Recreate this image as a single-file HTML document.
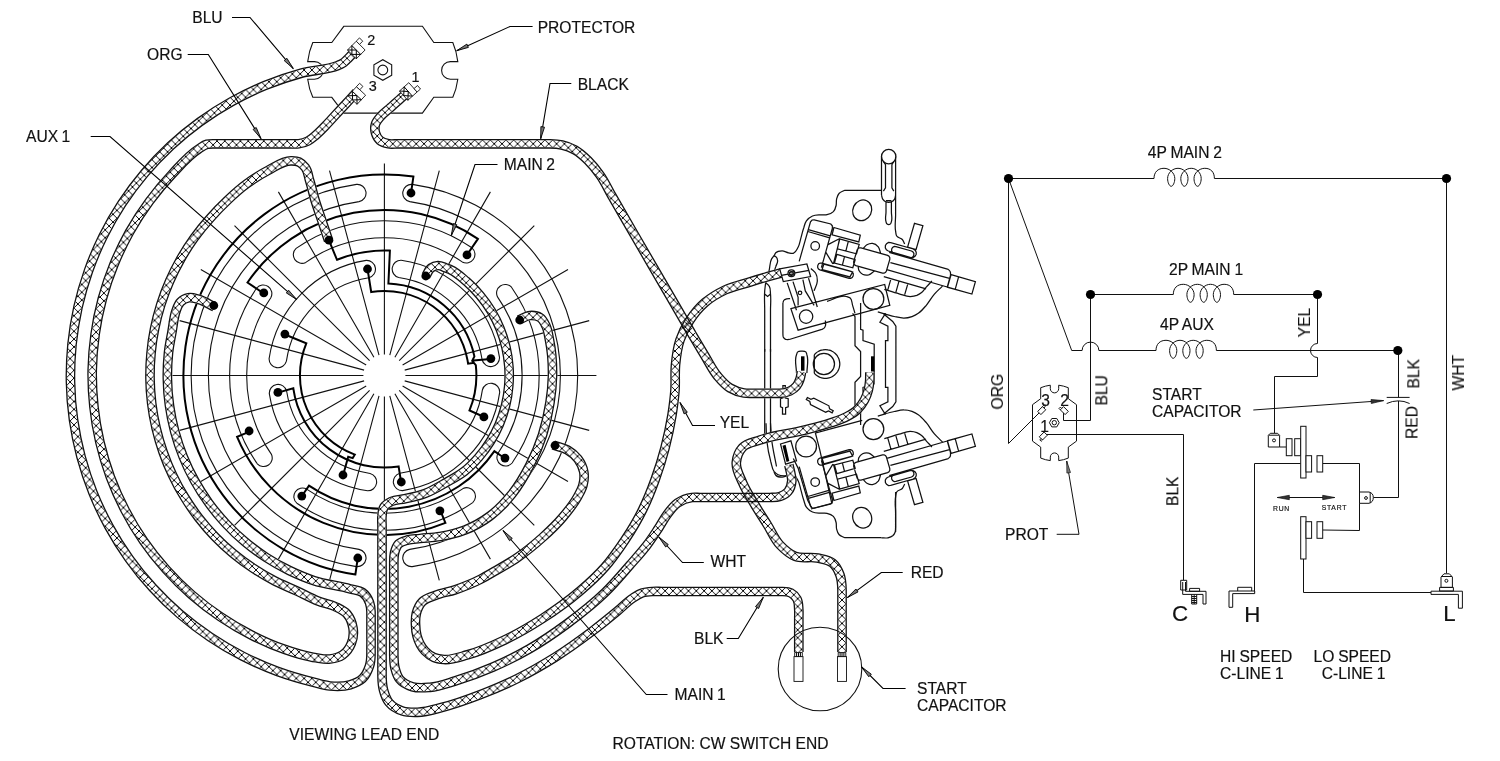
<!DOCTYPE html>
<html><head><meta charset="utf-8"><title>Wiring diagram</title>
<style>
html,body{margin:0;padding:0;background:#fff}
svg{display:block}
text{filter:url(#gs)}
.t{fill:none;stroke:#111;stroke-width:1.1}
.k{fill:none;stroke:#000;stroke-width:2;stroke-linejoin:miter}
.wo{fill:none;stroke:#111;stroke-width:9.7;stroke-linejoin:round}
use.wo[stroke]{stroke:#fff}
.wi{fill:none;stroke-width:7.1;stroke-linejoin:round}
.h{fill:none;stroke:#000;stroke-width:1}
.w{fill:#fff;stroke:#111;stroke-width:.9}
.ld{fill:none;stroke:#000;stroke-width:1.1}
.m{fill:none;stroke:#111;stroke-width:1.25}
.mw{fill:#fff;stroke:#111;stroke-width:1.25}
.s{fill:none;stroke:#111;stroke-width:1}
.sw{fill:#fff;stroke:#111;stroke-width:1}
text{font-family:"Liberation Sans",sans-serif;fill:#111;stroke:#111;stroke-width:.18;word-spacing:-.5px}
</style></head>
<body>
<svg width="1500" height="761" viewBox="0 0 1500 761">
<defs><filter id="gs" x="-5%" y="-20%" width="110%" height="140%" color-interpolation-filters="sRGB"><feColorMatrix type="saturate" values="0"/></filter></defs>
<rect width="1500" height="761" fill="#fff"/>
<defs><pattern id="h_blu" width="7.8" height="7.8" patternUnits="userSpaceOnUse" patternTransform="translate(7.7 7.6)"><path d="M-1 -1L8.8 8.8M-1 8.8L8.8 -1" stroke="#000" stroke-width=".95" fill="none"/></pattern><path id="w_blu" d="M356.5 50C354.7 51.8 352.8 53.7 351 55.5C349.7 56.8 348.4 58.2 347 59.5C346 60.4 345.1 61.5 344 62.3C342.9 63.1 341.7 63.8 340.5 64.4C339.7 64.8 338.9 65.1 338.1 65.4C326.5 70.2 313.3 69.9 301.2 73.2C289.1 76.5 277.1 80.6 265.5 85.3C253.9 90.1 242.5 95.6 231.5 101.7C220.5 107.8 209.9 114.6 199.7 122C189.6 129.3 179.8 137.4 170.6 145.9C161.4 154.5 152.7 163.6 144.6 173.2C136.5 182.8 128.9 192.9 122 203.4C115.1 213.9 108.8 224.9 103.2 236.1C97.6 247.4 92.7 259 88.5 270.8C84.3 282.7 80.8 294.8 78 307.1C75.3 319.4 73.3 331.8 72 344.3C70.8 356.9 70.2 369.5 70.5 382.1C70.7 394.6 71.7 407.2 73.5 419.7C75.3 432.1 77.8 444.5 81 456.7C84.3 468.8 88.2 480.8 92.9 492.5C97.6 504.2 103 515.6 109 526.6C115.1 537.7 121.8 548.4 129.1 558.6C136.4 568.9 144.4 578.7 152.9 587.9C161.4 597.2 170.5 606 180 614.2C189.6 622.4 199.7 630 210.1 637C220.6 644.1 231.5 650.4 242.7 656.2C254 661.9 265.5 667 277.4 671.4C289.2 675.7 301.3 679.2 313.6 682.3C319 683.6 324.4 685.5 330 686C336.6 686.6 343.6 686.8 350 684.8C354.5 683.4 359.1 681.7 362.5 678.5C366 675.2 368 670.5 369.5 666C371.7 659.7 370.8 652.7 371 646C371.1 642.7 371 639.3 371 636C371 635.3 371 634.7 371 634C371 630.7 371 627.3 371 624C371 620.7 371 617.3 371 614C371 613.3 371 612.7 371 612C370.9 608.8 370.6 605.5 369.5 602.5C368.1 598.7 365.8 594.9 362.5 592.5C359 589.9 354.2 590 350 588.8C338.1 585.5 325.5 584.5 313.8 580.6C305.4 577.8 297.3 574.3 289.3 570.5C281.4 566.6 273.6 562.3 266.2 557.5C258.8 552.7 251.7 547.4 244.9 541.7C238.1 536.1 231.7 530 225.7 523.5C219.7 517 214 510.2 208.8 503C203.7 495.9 198.9 488.4 194.6 480.7C190.3 473 186.5 465 183.2 456.8C179.9 448.6 177.1 440.2 174.8 431.7C172.5 423.1 170.7 414.5 169.5 405.7C168.2 397 167.5 388.1 167.4 379.3C167.2 370.5 167.6 361.6 168.5 352.8C169.4 344 171.6 335.4 172.8 326.7C173.1 325.1 173.2 323.5 173.5 322C174.1 318.3 174.7 314.5 176 311C177.2 307.8 178.1 304.4 180.5 302C182.6 299.9 185.5 298.4 188.5 297.8C192 297.1 195.6 298.6 199 299.5C204.5 301 209.3 304.5 214.5 307"/><mask id="m_blu" maskUnits="userSpaceOnUse" x="0" y="0" width="1500" height="761"><rect width="1500" height="761" fill="#fff"/><use href="#w_blu" class="wi" stroke="#000"/></mask><pattern id="h_org" width="7.8" height="7.8" patternUnits="userSpaceOnUse" patternTransform="translate(6.4 0.6)"><path d="M-1 -1L8.8 8.8M-1 8.8L8.8 -1" stroke="#000" stroke-width=".95" fill="none"/></pattern><path id="w_org" d="M356.3 92.5C355.8 93 355.4 93.5 354.9 94C351.9 97.2 348.9 100.5 345.9 103.8C342.4 107.5 338.9 111.3 335.4 115C332.4 118.3 329.4 121.6 326.4 124.8C325.9 125.3 325.5 125.8 325 126.3C322.1 129.3 319.2 132.3 316 135C313.4 137.1 311 139.5 308 141C305.1 142.5 301.9 143.4 298.7 143.8C295.8 144.2 292.9 143.8 290 143.8C289.3 143.8 288.7 143.8 288 143.8C280.1 143.8 272.2 143.8 264.3 143.8C255.8 143.8 247.2 143.8 238.7 143.8C230.8 143.8 222.9 143.8 215 143.8C214.3 143.8 213.7 143.8 213 143.8C211 143.8 208.9 143.8 207 144.3C204 145.1 201.5 147.2 198.9 148.8C188.6 155.2 180.7 164.9 172.5 173.7C164.2 182.5 156.4 191.8 149.3 201.5C142.1 211.3 135.5 221.4 129.6 231.9C123.7 242.5 118.5 253.4 113.9 264.6C109.3 275.7 105.5 287.2 102.3 298.9C99.2 310.5 96.7 322.4 95.1 334.3C93.4 346.3 92.4 358.3 92.2 370.4C92 382.5 92.6 394.6 93.9 406.6C95.1 418.5 97.2 430.5 99.9 442.2C102.7 454 106.2 465.6 110.3 476.9C114.5 488.2 119.4 499.3 125 510C130.5 520.7 136.7 531.1 143.6 541C150.4 550.9 158 560.4 166 569.4C174 578.4 182.6 586.9 191.7 594.8C200.8 602.7 210.4 610.1 220.4 616.8C230.4 623.6 240.8 629.7 251.5 635.1C262.3 640.6 273.3 645.5 284.7 649.4C289.7 651.2 294.8 652.8 300 654.2C305.3 655.6 310.6 657 316 657.8C320.6 658.5 325.3 659.6 330 659C334.3 658.5 338.9 657.5 342.5 655C346.5 652.3 349.5 648 351.3 643.5C353.3 638.7 353.8 633.1 353 628C352.2 623 350.3 617.8 347 614C343.9 610.5 339.2 608.6 335 606.5C329.6 603.9 323.6 603.2 318 601C310.9 598.2 304.2 594.4 297.3 591.2C289.8 587.7 282 584.7 274.6 580.9C267.3 577.1 260.1 572.9 253.2 568.3C246.3 563.8 239.6 558.8 233.2 553.5C226.8 548.2 220.7 542.6 214.9 536.6C209.1 530.6 203.7 524.3 198.6 517.7C193.6 511.1 188.8 504.2 184.5 497.1C180.1 490.1 176.1 482.7 172.6 475.2C169 467.7 165.8 460 163.1 452.1C160.3 444.2 158 436.2 156.1 428.1C154.2 420 152.7 411.8 151.7 403.5C150.7 395.2 150.1 386.9 150 378.6C149.9 370.2 150.2 361.9 151 353.6C151.7 345.3 152.9 337 154.6 328.8C156.2 320.7 158.3 312.6 160.8 304.6C163.3 296.7 166.2 288.8 169.6 281.2C172.9 273.5 176.7 266.1 180.8 258.8C184.9 251.6 189.5 244.5 194.3 237.8C199.2 231 204.5 224.5 210.1 218.3C215.6 212 221.4 206 227.5 200.3C233.6 194.5 239.8 188.8 246.6 183.9C253.3 178.9 260.4 174.4 267.9 170.5C275.3 166.7 282.7 160.7 291.1 160.8C293.7 160.9 296.6 160.9 299 162C301.5 163.2 303.6 165.3 305.3 167.5C308 171 308.2 175.8 309.5 180C311.6 186.6 313 193.4 315 200C317.3 207.6 320 215 322.5 222.5C324.5 228.5 326.6 234.6 328.6 240.6"/><mask id="m_org" maskUnits="userSpaceOnUse" x="0" y="0" width="1500" height="761"><rect width="1500" height="761" fill="#fff"/><use href="#w_org" class="wi" stroke="#000"/></mask><pattern id="h_black" width="7.8" height="7.8" patternUnits="userSpaceOnUse" patternTransform="translate(2.8 3.4)"><path d="M-1 -1L8.8 8.8M-1 8.8L8.8 -1" stroke="#000" stroke-width=".95" fill="none"/></pattern><path id="w_black" d="M408.8 91.3C408.3 91.7 407.8 92.2 407.3 92.6C404.7 95 402 97.3 399.4 99.7C396.8 102 394.1 104.3 391.5 106.7C391 107.1 390.5 107.6 390 108C387 110.7 383.6 113 381 116C378.9 118.5 376.4 120.9 375.5 124C374.6 126.9 374.7 130.1 375.5 133C376.3 135.8 377.8 138.6 380 140.5C382.3 142.5 385.5 143.2 388.5 143.8C391.6 144.4 394.8 143.8 398 143.8C398.7 143.8 399.3 143.8 400 143.8C412 143.8 424 143.8 436 143.8C448.7 143.8 461.3 143.8 474 143.8C486.7 143.8 499.3 143.8 512 143.8C524 143.8 536 143.8 548 143.8C548.7 143.8 549.3 143.8 550 143.8C554 143.9 558.1 144.1 562 145C566.5 146 570.9 147.7 575 150C579.9 152.7 584 156.6 588 160.5C592.5 164.9 596.4 169.9 600 175C604.7 181.6 608 189 612 196C612.3 196.6 612.7 197.2 613 197.7C619.4 208.7 625.8 219.7 632.1 230.8C638.8 242.3 645.5 253.9 652.2 265.5C659 277.1 665.7 288.7 672.4 300.2C678.7 311.3 685.1 322.3 691.5 333.3C691.8 333.8 692.2 334.4 692.5 335C696.6 342 700.8 349 705 356C709.1 362.7 712.4 370 717.5 376C721.2 380.4 725 385 730 388C734.3 390.5 739.1 392.3 744 393C746.6 393.4 749.3 393.3 752 393.3C752.7 393.3 753.3 393.3 754 393.3C758 393.3 762 393.3 766 393.3C770 393.3 774 393.3 778 393.3C778.7 393.3 779.3 393.3 780 393.3C783.4 393.2 786.9 392.5 790 391C792.4 389.8 794.8 388.1 796.5 386C798.1 384 799.2 381.5 800 379C800.8 376.7 801 374.3 801.5 372"/><mask id="m_black" maskUnits="userSpaceOnUse" x="0" y="0" width="1500" height="761"><rect width="1500" height="761" fill="#fff"/><use href="#w_black" class="wi" stroke="#000"/></mask><pattern id="h_yel" width="7.8" height="7.8" patternUnits="userSpaceOnUse" patternTransform="translate(4.2 0)"><path d="M-1 -1L8.8 8.8M-1 8.8L8.8 -1" stroke="#000" stroke-width=".95" fill="none"/></pattern><path id="w_yel" d="M553.3 445C558 446.7 563.2 447.5 567.5 450C571.5 452.3 575.2 455.3 578 459C580.8 462.8 583 467.3 583.8 472C584.5 476.3 584.1 480.8 583 485C581.9 489.3 579.6 493.1 577.5 497C573.5 504.4 568 511 562.5 517.5C556.4 524.7 549.5 531.2 542.5 537.5C534.6 544.6 526.3 551.4 517.5 557.5C509.5 563 500.9 567.7 492.5 572.5C488.4 574.9 484.3 577.3 480 579.5C472 583.6 463.5 586.9 455 589.8C448.4 592 441.4 592.9 435 595.5C430.7 597.2 425.8 598.3 422.5 601.5C419.3 604.7 417.4 609.1 416.3 613.5C415.4 616.9 415.4 620.5 415.5 624C415.6 628 415.9 632.1 417 636C418.5 641.5 421.1 646.9 425 651C427.6 653.7 430.6 656.1 434 657.5C437.1 658.8 440.6 659.2 444 659.5C452 660.1 459.8 656.9 467.5 654.8C480.5 651.3 492.9 645.6 505 639.8C518 633.6 530.4 626.3 542.5 618.5C555.5 610.1 568.2 601.1 580 591C588.8 583.5 597.4 575.7 605 567C612.4 558.6 618.8 549.3 625 540C631.4 530.3 637.4 520.4 642.5 510C647.3 500.3 651.3 490.2 655 480C658.8 469.5 662.2 458.8 665 448C667.8 437.1 670.2 426.1 672 415C673.3 406.7 674.4 398.4 675 390C675.6 381.7 674.7 373.3 675.5 365C676.3 356.6 677.3 348 680 340C682.4 332.9 685.9 326.2 690 320C694.2 313.6 699.2 307.5 705 302.5C711 297.4 717.9 293.4 725 290C732.9 286.3 741.6 284.6 750 282C756 280.1 762 278.2 768 276.5C772.3 275.3 776.7 274.2 781 273"/><mask id="m_yel" maskUnits="userSpaceOnUse" x="0" y="0" width="1500" height="761"><rect width="1500" height="761" fill="#fff"/><use href="#w_yel" class="wi" stroke="#000"/></mask><pattern id="h_wht" width="7.8" height="7.8" patternUnits="userSpaceOnUse" patternTransform="translate(6.5 1.6)"><path d="M-1 -1L8.8 8.8M-1 8.8L8.8 -1" stroke="#000" stroke-width=".95" fill="none"/></pattern><path id="w_wht" d="M518.8 320C522.5 318.5 526 315.8 530 315.5C533.4 315.3 537.1 315.7 540 317.5C542.9 319.4 544.5 322.9 546 326C548.1 330.3 548.5 335.3 549.5 340C551.9 351.8 552.7 364 552.5 376C552.3 384.9 551.4 393.7 550 402.5C548.3 413.5 545.9 424.4 542.5 435C539.2 445.3 534.9 455.4 530 465C524.8 475.1 519.1 485.1 512 494C505.5 502.1 498.3 509.8 490 516C482.4 521.7 473.9 526.5 465 530C457 533.2 448.5 535.1 440 536.5C433.4 537.6 426.7 537.8 420 538.5C415.8 539 411.5 538.8 407.5 540C404.4 540.9 400.8 541.7 398.5 544C396.2 546.3 395.3 549.8 394.5 553C393.8 555.9 393.8 559 393.8 562C393.8 562.7 393.8 563.3 393.8 564C393.8 573.7 393.8 583.3 393.8 593C393.8 603.3 393.8 613.7 393.8 624C393.8 633.7 393.8 643.3 393.8 653C393.8 653.7 393.8 654.3 393.8 655C393.9 659.4 393.9 663.8 395 668C396 671.8 397 675.9 399.5 679C402.6 683 407.7 685.3 412.5 686.8C418.1 688.5 424.2 687.8 430 687.3C438.6 686.6 446.8 683.4 455 681C467.8 677.2 480.3 672.6 492.5 667.3C505.3 661.8 517.9 655.5 530 648.5C543 641 555.4 632.4 567.5 623.5C580.5 613.8 593.4 603.8 605 592.5C613.9 583.9 621.8 574.3 630 565C635.8 558.4 641.7 552 647 545C650.9 539.8 654.4 534.4 658 529C661.3 524.1 663.9 518.7 667.5 514C670.5 510.1 673.4 505.8 677.5 503C681.8 500.1 686.9 498.1 692 497.5C694.6 497.2 697.3 497.5 700 497.5C700.7 497.5 701.3 497.5 702 497.5C709.1 497.5 716.2 497.5 723.3 497.5C731.1 497.5 738.9 497.5 746.7 497.5C753.8 497.5 760.9 497.5 768 497.5C768.7 497.5 769.3 497.5 770 497.5C773.3 497.4 776.8 497.6 780 496.5C783 495.5 786 493.9 788 491.5C790.4 488.7 791.5 484.7 791.8 481C792 478 791.1 475 790.5 472C790 469.6 789.4 467.3 788.8 465"/><mask id="m_wht" maskUnits="userSpaceOnUse" x="0" y="0" width="1500" height="761"><rect width="1500" height="761" fill="#fff"/><use href="#w_wht" class="wi" stroke="#000"/></mask><pattern id="h_blk" width="7.8" height="7.8" patternUnits="userSpaceOnUse" patternTransform="translate(2.1 5.9)"><path d="M-1 -1L8.8 8.8M-1 8.8L8.8 -1" stroke="#000" stroke-width=".95" fill="none"/></pattern><path id="w_blk" d="M425.8 276C427.6 273.3 428.4 269.9 431 268C433 266.5 435.5 265.6 438 265.5C440.8 265.4 443.4 267.1 446 268C447.5 268.5 449.1 269 450.5 269.7C456.5 272.3 461.3 277 466.3 281.3C471.2 285.6 475.8 290.3 480 295.3C484.2 300.3 488 305.6 491.4 311.2C494.7 316.8 497.7 322.7 500.1 328.7C502.6 334.8 504.5 341.1 506 347.4C507.5 353.8 508.4 360.3 508.9 366.8C509.4 373.3 509.3 379.9 508.7 386.4C508.2 392.9 507.1 399.4 505.5 405.7C503.9 412 501.8 418.3 499.3 424.3C496.7 430.3 493.7 436.1 490.2 441.6C486.8 447.2 482.9 452.4 478.6 457.4C474.3 462.3 469.7 467.1 464.6 471.1C459.2 475.4 453 478.6 447 482C439.8 486.1 432.7 490.6 425 493.5C418.5 495.9 411.7 497.3 405 498.8C400.5 499.8 395.5 499.4 391.3 501.5C388.6 502.9 385.7 504.4 384 507C382.3 509.6 382.3 512.9 382 516C381.6 519.3 382 522.7 382 526C382 526.7 382 527.3 382 528C382 539.8 382 551.7 382 563.5C382 576 382 588.5 382 601C382 613.5 382 626 382 638.5C382 650.3 382 662.2 382 674C382 674.7 382 675.3 382 676C382.1 680.7 382.3 685.5 383.5 690C384.7 694.4 386.1 699 389 702.5C392.4 706.6 397.4 709.3 402.5 711C407.3 712.6 412.5 712.4 417.5 712.3C426 712.1 434.3 709.4 442.5 707.3C455.3 704.1 467.7 699.5 480 694.8C492.7 689.9 505.3 684.6 517.5 678.5C530.4 672.1 542.8 664.9 555 657.3C567.9 649.2 580.3 640.2 592.5 631C601 624.6 609.3 617.8 617.5 611C622.7 606.7 627.3 601.6 633 598C635.9 596.1 638.8 594.1 642 593C645.3 591.9 649 591.7 652.5 591.5C655.7 591.3 658.8 591.5 662 591.5C662.7 591.5 663.3 591.5 664 591.5C673.3 591.5 682.7 591.5 692 591.5C702 591.5 712 591.5 722 591.5C732 591.5 742 591.5 752 591.5C761.3 591.5 770.7 591.5 780 591.5C780.7 591.5 781.3 591.5 782 591.5C785 591.6 788.3 591.6 791 593C793.5 594.3 795.6 596.5 797 599C798.8 602.2 798.5 606.3 798.8 610C799 612.7 798.8 615.3 798.8 618C798.8 618.7 798.8 619.3 798.8 620C798.8 625 798.8 630 798.8 635C798.8 640 798.8 645 798.8 650C798.8 650.7 798.8 651.3 798.8 652"/><mask id="m_blk" maskUnits="userSpaceOnUse" x="0" y="0" width="1500" height="761"><rect width="1500" height="761" fill="#fff"/><use href="#w_blk" class="wi" stroke="#000"/></mask><pattern id="h_red" width="7.8" height="7.8" patternUnits="userSpaceOnUse" patternTransform="translate(7.4 7.2)"><path d="M-1 -1L8.8 8.8M-1 8.8L8.8 -1" stroke="#000" stroke-width=".95" fill="none"/></pattern><path id="w_red" d="M842 652C842 651.3 842 650.7 842 650C842 643.8 842 637.6 842 631.3C842 624.4 842 617.6 842 610.7C842 604.4 842 598.2 842 592C842 591.3 842 590.7 842 590C841.9 585 841.7 579.7 840 575C838.4 570.6 836.1 566 832.5 563C828.4 559.7 822.6 559.2 817.5 558C810.2 556.4 802 559.1 795 556.3C789.2 553.9 784.3 549.5 780 545C774.6 539.3 771.7 531.7 767.5 525C763.3 518.3 759 511.8 755 505C750.6 497.6 745.8 490.4 742.5 482.5C739.8 476.1 735.7 469.5 736.3 462.5C736.8 457.1 738.8 451.5 742.5 447.5C746.8 442.8 754 442.2 760 440C774.4 434.7 790.1 433.9 805 430C813.4 427.8 821.8 425.8 830 423C835.6 421.1 841.5 419.5 846.7 416.7C850.5 414.7 854.4 412.5 857.5 409.5C860.3 406.8 862.6 403.5 864.5 400C866.2 396.9 867.4 393.5 868.3 390C869.1 387.1 869.4 384 869.7 381C869.9 378.2 869.8 375.3 869.9 372.5"/><mask id="m_red" maskUnits="userSpaceOnUse" x="0" y="0" width="1500" height="761"><rect width="1500" height="761" fill="#fff"/><use href="#w_red" class="wi" stroke="#000"/></mask></defs>
<path d="M405.4 375.5L596.4 375.5M404.7 370.1L589.2 320.6M402.6 365L568 269.5M399.2 360.7L534.3 225.6M394.9 357.3L490.4 191.9M389.8 355.2L439.3 170.7M384.4 354.5L384.4 163.5M379 355.2L329.5 170.7M373.9 357.3L278.4 191.9M369.6 360.7L234.5 225.6M366.2 365L200.8 269.5M364.1 370.1L179.6 320.6M363.4 375.5L172.4 375.5M364.1 380.9L179.6 430.4M366.2 386L200.8 481.5M369.6 390.3L234.5 525.4M373.9 393.7L278.4 559.1M379 395.8L329.5 580.3M384.4 396.5L384.4 587.5M389.8 395.8L439.3 580.3M394.9 393.7L490.4 559.1M399.2 390.3L534.3 525.4M402.6 386L568 481.5M404.7 380.9L589.2 430.4" class="t"/>
<path d="M356.5 184.4A193.1 193.1 0 0 0 356.5 566.6A8.7 8.7 0 0 0 359 549.4A175.7 175.7 0 0 1 359 201.6A8.7 8.7 0 0 0 356.5 184.4ZM412.3 566.6A193.1 193.1 0 0 0 412.3 184.4A8.7 8.7 0 0 0 409.8 201.6A175.7 175.7 0 0 1 409.8 549.4A8.7 8.7 0 0 0 412.3 566.6ZM471.9 247.8A154.8 154.8 0 0 0 296.1 248.4A8.6 8.6 0 0 0 305.8 262.4A137.7 137.7 0 0 1 462.2 261.9A8.6 8.6 0 0 0 471.9 247.8ZM499.5 357.3A116.5 116.5 0 0 0 401.2 260.2A8.8 8.8 0 0 0 398.7 277.5A99 99 0 0 1 482.2 360A8.8 8.8 0 0 0 499.5 357.3ZM256.7 288A154.8 154.8 0 0 0 257.3 463.8A8.6 8.6 0 0 0 271.3 454.1A137.7 137.7 0 0 1 270.8 297.7A8.6 8.6 0 0 0 256.7 288ZM366.2 260.4A116.5 116.5 0 0 0 269.1 358.7A8.8 8.8 0 0 0 286.4 361.2A99 99 0 0 1 368.9 277.7A8.8 8.8 0 0 0 366.2 260.4ZM296.9 503.2A154.8 154.8 0 0 0 472.7 502.6A8.6 8.6 0 0 0 463 488.6A137.7 137.7 0 0 1 306.6 489.1A8.6 8.6 0 0 0 296.9 503.2ZM269.3 393.7A116.5 116.5 0 0 0 367.6 490.8A8.8 8.8 0 0 0 370.1 473.5A99 99 0 0 1 286.6 391A8.8 8.8 0 0 0 269.3 393.7ZM512.1 463A154.8 154.8 0 0 0 511.5 287.2A8.6 8.6 0 0 0 497.5 296.9A137.7 137.7 0 0 1 498 453.3A8.6 8.6 0 0 0 512.1 463ZM402.6 490.6A116.5 116.5 0 0 0 499.7 392.3A8.8 8.8 0 0 0 482.4 389.8A99 99 0 0 1 399.9 473.3A8.8 8.8 0 0 0 402.6 490.6Z" class="t"/>
<path d="M410.9 193.9L413.4 176.6A201 201 0 0 0 355.4 574.4L357.8 557.6M466.9 255L477.9 238.9A165.5 165.5 0 0 0 247.5 282.5L263.6 293.4M249.6 431.6L237.1 436.8A159.5 159.5 0 0 0 445.4 522.9L440.3 510.4M301.9 496L309 485.7A133.5 133.5 0 0 0 494.4 451.1L504.7 458.2M329 240.4L337 259.8A125 125 0 0 1 389.9 250.6L388.4 283.6A92 92 0 0 1 474.4 356.4L472.2 360.8L475.8 365.1A92 92 0 0 1 469.5 410.4L484.1 417M490.6 359.1L473.2 360.6M367.6 269.3L371.2 292A84.5 84.5 0 0 1 467.5 360.1L468.1 363.7L474.5 362.8M284.9 334.5L306.3 343.3A84.5 84.5 0 0 0 354.8 454.6L352.7 458.1L348.2 456.8L343.1 475.3M277.8 392.6L293.3 388.3A92 92 0 0 0 398.6 466.4L401.1 482.2" class="k"/>
<path d="M343.8 26.3L422.4 26.3L433.8 42.5L452.8 42.5Q456.5 51 457.8 61.6L450.4 61.6A8.8 8.8 0 0 0 450.4 79.2L457.8 79.2Q456.5 89 452.8 97.3L433.8 97.3L422.4 113.1L343.8 113.1L331.8 97.3L312.8 97.3Q309 89 307.7 79.2L314.5 79.2A8.8 8.8 0 0 0 314.5 61.6L307.7 61.6Q309 51 312.8 42.5L331.8 42.5Z" class="t"/>
<path d="M391.7 75.2L382.8 80.3L373.9 75.2L373.9 64.8L382.8 59.7L391.7 64.8Z" class="t"/><circle cx="382.8" cy="70" r="4.9" class="t"/>
<path d="M774 256C774.6 255 774.9 253.7 775.7 252.8C777.2 251.2 779.8 250.8 782.1 250.8C784.3 250.8 786.3 252.4 788.5 252.8C790.1 253.1 791.7 253.8 793.3 253.3C795.8 252.6 796.8 249.5 798.1 247.2C799.7 244.3 800 240.8 801 237.6C801.9 234.4 802.6 231.1 803.7 228C804.5 225.5 804.9 222.8 806.4 220.8C808 218.7 810.2 217 812.5 216C815 214.9 817.9 215 820.5 214.8C822.7 214.7 824.9 215.2 827 214.7C829.3 214.2 831.7 213.3 833.4 211.6C834.9 210 835.6 207.7 836.1 205.5C836.6 203.5 836.1 201.2 836.6 199.1C837.1 197.2 837.6 195 839 193.5C840.4 191.9 842.7 191.4 844.6 190.3M844.6 190.3L881.5 190.3M895.6 195.9C895.6 202.3 895.6 208.7 895.6 215.2C895.6 220.5 894.6 225.9 895.6 231.2C895.9 232.8 895.8 234.6 896.7 236C897.9 237.9 900.9 237.9 902.3 239.5C903.4 240.8 903.9 242.5 904.7 244M914.5 223.3L922.9 225.7L916.1 249.5L907.6 247.1ZM913.2 249L915.1 250.2L916.2 252.1L916.2 254.3L916.1 254.5L915 256.4L913 257.5L910.8 257.5L888.3 251L886.4 249.9L885.3 247.9L885.4 245.7L885.4 245.5L886.6 243.6L888.5 242.5L890.7 242.6ZM911.5 251L913 251.9L913.9 253.5L913.8 255.2L913.8 255.4L912.9 256.9L911.3 257.8L909.6 257.8L894 253.3L892.5 252.4L891.6 250.8L891.7 249.1L891.7 248.9L892.6 247.4L894.2 246.5L895.9 246.6ZM799.2 261.3L810.5 221.9L812.1 220L814.2 219.8L830.8 224L832.3 225.8L832.4 228.1L821.4 267.6M808.3 229.6L830.2 235.8M807.8 231.5L829.7 237.8M833.9 227.5L860.3 235.1L858.8 241.9L832.1 234.8ZM839.5 238.8L859.2 244.5L856.5 253.8L837.4 248.8ZM848.3 241.3L845.9 250.9M836.9 254.4L855.2 259.6L852.8 267.8L834.4 263ZM844.5 256.6L842.3 265.3M828 244.6L839.3 238.7M825.6 251.9L832.9 263.9M839.8 238.9L833.4 263.8M851 271.3L852.4 272.2L853.3 273.7L853.2 275.4L853.1 276L852.2 277.5L850.7 278.3L849 278.3L819.9 269.9L818.5 269L817.7 267.6L817.7 265.8L817.9 265.3L818.7 263.8L820.2 263L821.9 263ZM823.9 264.1L852.6 272L849.9 276.9L822.1 269.5ZM887.6 255.4L889 256.3L889.8 257.7L889.8 259.4L886.4 271L885.6 272.4L884.1 273.2L882.5 273.2L855.9 265.6L854.5 264.7L853.7 263.3L853.7 261.6L857.1 250L857.9 248.6L859.4 247.8L861 247.8ZM863.3 248.4C864.5 247.2 865.4 245.7 866.9 244.8C868.6 243.8 870.6 243.1 872.5 243.3C874.8 243.5 876.9 245.1 878.3 246.8C879.7 248.6 879.8 251.1 880.6 253.2M858.1 266.3C858.4 267.7 858.3 269.3 859 270.6C859.7 272.1 861.1 273.5 862.6 274.3C864.4 275.2 866.7 275.3 868.7 274.9C870.9 274.3 872.5 272.3 874.5 271M889.2 252.4L948.3 269.4M948.3 269.4C948.9 270.1 949.8 270.7 950.2 271.6C950.8 272.8 950.4 274.2 950.5 275.5M950.5 275.5L947.2 287.1M890.4 262.7L949.6 278.3M886.8 269.6L947.2 287M951.1 274.7L975.4 281.6L971.9 294.1L947.5 287.2ZM958.6 276.8L955.2 289.4M883.8 276.7L926.1 288.8M891 278.7L887.8 289.8M899 281.1L895.9 292.1M907.9 283.6L904.7 294.7M884.3 289.3C889.2 290.8 894.2 292.4 899.1 293.8C902.8 294.8 906.5 296.7 910.3 296.6C912.5 296.5 914.7 296.2 916.8 295.4C918.5 294.7 920.1 293.7 921.6 292.5C923.5 291 924.7 288.8 926.4 286.9C928.2 284.9 930.1 283 931.9 281M877.8 311.9C883.3 313.4 888.7 315.4 894.3 316.5C897.5 317.2 900.7 318.2 903.9 318.1C906.6 318.1 909.4 317.5 912 316.6C914.2 315.8 916.3 314.7 918.3 313.3C921.4 311.2 923.8 308.2 926.3 305.3C929.3 301.8 931.4 297.6 934.4 294.1C936.9 291.3 939.8 288.8 942.4 286.1M852.6 313.4L855 316.6L855 345.8L860.6 351.5L860.6 364M860.6 302.9L860.6 329.4L863 330.2L863 340.6L874.2 344.2L874.2 364M885.5 313.4L879.9 322.2L887.9 326.2L887.9 340.6L885.5 340.6L885.5 364M883.1 313.4L892.7 321.4L895.9 326.2L895.9 364" class="m"/><ellipse cx="862.2" cy="210.3" rx="9.3" ry="10.6" transform="rotate(25 862.2 210.3)" class="m"/><circle cx="815.2" cy="245.9" r="4.3" class="m"/><circle cx="873.4" cy="298.9" r="10.4" class="m"/>
<path d="M774 472C774.6 473 774.9 474.3 775.7 475.2C777.2 476.8 779.8 477.2 782.1 477.2C784.3 477.2 786.3 475.6 788.5 475.2C790.1 474.9 791.7 474.2 793.3 474.7C795.8 475.4 796.8 478.5 798.1 480.8C799.7 483.7 800 487.2 801 490.4C801.9 493.6 802.6 496.9 803.7 500C804.5 502.5 804.9 505.2 806.4 507.2C808 509.3 810.2 511 812.5 512C815 513.1 817.9 513 820.5 513.2C822.7 513.3 824.9 512.8 827 513.3C829.3 513.8 831.7 514.7 833.4 516.4C834.9 518 835.6 520.3 836.1 522.5C836.6 524.5 836.1 526.8 836.6 528.9C837.1 530.8 837.6 533 839 534.5C840.4 536.1 842.7 536.6 844.6 537.7M844.6 537.7L881.5 537.7M895.6 532.1C895.6 525.7 895.6 519.3 895.6 512.8C895.6 507.5 894.6 502.1 895.6 496.8C895.9 495.2 895.8 493.4 896.7 492C897.9 490.1 900.9 490.1 902.3 488.5C903.4 487.2 903.9 485.5 904.7 484M914.5 504.7L922.9 502.3L916.1 478.5L907.6 480.9ZM913.2 479L915.1 477.8L916.2 475.9L916.2 473.7L916.1 473.5L915 471.6L913 470.5L910.8 470.5L888.3 477L886.4 478.1L885.3 480.1L885.4 482.3L885.4 482.5L886.6 484.4L888.5 485.5L890.7 485.4ZM911.5 477L913 476.1L913.9 474.5L913.8 472.8L913.8 472.6L912.9 471.1L911.3 470.2L909.6 470.2L894 474.7L892.5 475.6L891.6 477.2L891.7 478.9L891.7 479.1L892.6 480.6L894.2 481.5L895.9 481.4ZM799.2 466.7L810.5 506.1L812.1 508L814.2 508.2L830.8 504L832.3 502.2L832.4 499.9L821.4 460.4M808.3 498.4L830.2 492.2M807.8 496.5L829.7 490.2M833.9 500.5L860.3 492.9L858.8 486.1L832.1 493.2ZM839.5 489.2L859.2 483.5L856.5 474.2L837.4 479.2ZM848.3 486.7L845.9 477.1M836.9 473.6L855.2 468.4L852.8 460.2L834.4 465ZM844.5 471.4L842.3 462.7M828 483.4L839.3 489.3M825.6 476.1L832.9 464.1M839.8 489.1L833.4 464.2M851 456.7L852.4 455.8L853.3 454.3L853.2 452.6L853.1 452L852.2 450.5L850.7 449.7L849 449.7L819.9 458.1L818.5 459L817.7 460.4L817.7 462.2L817.9 462.7L818.7 464.2L820.2 465L821.9 465ZM823.9 463.9L852.6 456L849.9 451.1L822.1 458.5ZM887.6 472.6L889 471.7L889.8 470.3L889.8 468.6L886.4 457L885.6 455.6L884.1 454.8L882.5 454.8L855.9 462.4L854.5 463.3L853.7 464.7L853.7 466.4L857.1 478L857.9 479.4L859.4 480.2L861 480.2ZM863.3 479.6C864.5 480.8 865.4 482.3 866.9 483.2C868.6 484.2 870.6 484.9 872.5 484.7C874.8 484.5 876.9 482.9 878.3 481.2C879.7 479.4 879.8 476.9 880.6 474.8M858.1 461.7C858.4 460.3 858.3 458.7 859 457.4C859.7 455.9 861.1 454.5 862.6 453.7C864.4 452.8 866.7 452.7 868.7 453.1C870.9 453.7 872.5 455.7 874.5 457M889.2 475.6L948.3 458.6M948.3 458.6C948.9 457.9 949.8 457.3 950.2 456.4C950.8 455.2 950.4 453.8 950.5 452.5M950.5 452.5L947.2 440.9M890.4 465.3L949.6 449.7M886.8 458.4L947.2 441M951.1 453.3L975.4 446.4L971.9 433.9L947.5 440.8ZM958.6 451.2L955.2 438.6M883.8 451.3L926.1 439.2M891 449.3L887.8 438.2M899 446.9L895.9 435.9M907.9 444.4L904.7 433.3M884.3 438.7C889.2 437.2 894.2 435.6 899.1 434.2C902.8 433.2 906.5 431.3 910.3 431.4C912.5 431.5 914.7 431.8 916.8 432.6C918.5 433.3 920.1 434.3 921.6 435.5C923.5 437 924.7 439.2 926.4 441.1C928.2 443.1 930.1 445 931.9 447M877.8 416.1C883.3 414.6 888.7 412.6 894.3 411.5C897.5 410.8 900.7 409.8 903.9 409.9C906.6 409.9 909.4 410.5 912 411.4C914.2 412.2 916.3 413.3 918.3 414.7C921.4 416.8 923.8 419.8 926.3 422.7C929.3 426.2 931.4 430.4 934.4 433.9C936.9 436.7 939.8 439.2 942.4 441.9M852.6 414.6L855 411.4L855 382.2L860.6 376.5L860.6 364M860.6 425.1L860.6 398.6L863 397.8L863 387.4L874.2 383.8L874.2 364M885.5 414.6L879.9 405.8L887.9 401.8L887.9 387.4L885.5 387.4L885.5 364M883.1 414.6L892.7 406.6L895.9 401.8L895.9 364" class="m"/><ellipse cx="862.2" cy="517.7" rx="9.3" ry="10.6" transform="rotate(-25 862.2 517.7)" class="m"/><circle cx="815.2" cy="482.1" r="4.3" class="m"/><circle cx="873.4" cy="429.1" r="10.4" class="m"/>
<path d="M881.5 156.6L881.5 195.1M895.6 156.6L895.6 195.9M883.4 161.5L885.5 164.7L885.5 187.9L883.4 191.1M893.8 161.5L891.9 164.7L891.9 187.9L893.8 191.1M881.5 195.1C881.9 196.5 882 198 882.7 199.1C883.5 200.3 884.7 201.3 886 201.9C886.8 202.2 887.8 202.3 888.7 202.3C889.6 202.3 890.5 202.2 891.4 201.9C892.7 201.3 893.9 200.3 894.6 199.1C895.3 198 895.3 196.5 895.6 195.1M886 200.7L891.4 200.7M886 201.5C886 205 886 208.5 886 212C886 215.2 884.9 218.6 886 221.6C886.2 222.4 886.3 223.5 887.1 224C887.5 224.3 888.1 224.5 888.7 224.5C889.2 224.5 889.8 224.3 890.3 224C891 223.5 891.1 222.4 891.4 221.6C892.5 218.6 891.4 215.2 891.4 212C891.4 208.5 891.4 205 891.4 201.5M790.9 308.6L884.7 284.5L889.8 305.4L798.1 330.2ZM825.4 320.6C825.4 322.3 826 324.2 825.4 325.9C825.1 326.7 824.7 327.5 824.1 328.1C823.5 328.7 822.6 329 821.8 329.4M821.8 329.4L789.3 339.5M789.3 339.5C788 339.4 786.7 339.9 785.6 339.3C784.6 338.9 783.8 338 783.3 337.1C782.8 336 783 334.6 782.9 333.4M782.9 333.4L782.9 302.9M782.9 302.9C783.2 302 783.3 300.8 784 300.1C784.6 299.4 785.7 299.2 786.6 298.9C787.7 298.6 788.9 298.7 790.1 298.6M827 301.3C833.4 299.7 839.8 294.8 846.2 296.5C847.6 296.9 849.1 297.2 850.2 298.1C852.2 299.7 851.8 302.9 852.6 305.4C853.4 308 854.2 310.7 855 313.4M787.2 282.9L796.5 310.2M793 281.6L798.1 297.3L798.1 305.4M802.9 279.7L805.3 290.9L814.1 305.4M808.5 278.1L817.3 307M810.9 268.5C812.5 270.1 814.6 271.3 815.7 273.3C817.1 275.7 817.4 278.6 817.3 281.3C817.2 284.7 815.2 287.7 814.1 290.9M774 255.7C774.8 256.2 775.8 256.5 776.5 257.3C777.2 258.1 777.4 259.3 777.6 260.5C777.9 262.7 776.3 264.7 775.7 266.9C775.1 268.6 774.6 270.3 774 272M764.7 351.8C764.7 337.9 764.7 324.1 764.7 310.2C764.7 303.7 764.2 297.3 764.7 290.9C765 288.2 765.2 285.6 765.7 282.9C766.5 278.5 768.2 274.4 769.2 270.1C770.1 266.4 769.7 262.2 771.6 258.9C772.3 257.7 773.2 256.7 774 255.7M770.5 351.8C770.5 337.9 770.5 324.1 770.5 310.2C770.5 304.8 771.1 299.4 770.5 294.1C770.2 291.4 770.7 288.4 769.2 286.1C768.4 284.8 767.1 284 766 282.9M764.7 294.1L767.6 296.5L770.5 294.1" class="m"/><circle cx="888.7" cy="156.6" r="7.2" class="m"/><circle cx="806.1" cy="316.6" r="6.7" class="m"/><circle cx="800" cy="292.8" r="1.8" class="m"/>
<path d="M796.5 373.1C796.5 367 794.2 360.4 796.5 354.7C796.9 353.7 797 352.6 797.8 351.9C798.7 351.1 800.3 351.2 801.6 351.1C803 351.1 804.8 350.9 805.8 351.9C806.5 352.6 806.6 353.7 806.9 354.7C808.9 360.5 806.9 367 806.9 373.1M814.3 354.7C814.9 354.1 815.5 353.5 816.1 352.9C816.7 352.4 817.4 351.9 818.2 351.5C818.9 351.1 819.6 350.7 820.4 350.4C821.2 350.1 822 349.9 822.9 349.8C823.7 349.6 824.5 349.6 825.4 349.6C826.2 349.6 827 349.6 827.9 349.8C828.7 349.9 829.5 350.1 830.3 350.4C831.1 350.7 831.8 351.1 832.6 351.5C833.3 351.9 834 352.4 834.6 352.9C835.2 353.5 835.8 354.1 836.4 354.7C836.9 355.3 837.4 356 837.8 356.8C838.2 357.5 838.6 358.2 838.9 359C839.2 359.8 839.4 360.6 839.5 361.5C839.7 362.3 839.8 363.1 839.8 364C839.8 364.8 839.7 365.6 839.5 366.5C839.4 367.3 839.2 368.1 838.9 368.9C838.6 369.7 838.2 370.4 837.8 371.2C837.4 371.9 836.9 372.6 836.4 373.2C835.8 373.9 835.2 374.5 834.6 375C834 375.5 833.3 376 832.6 376.4C831.8 376.8 831.1 377.2 830.3 377.5C829.5 377.8 828.7 378 827.9 378.1C827 378.3 826.2 378.4 825.4 378.4C824.5 378.4 823.7 378.3 822.9 378.1C822 378 821.2 377.8 820.4 377.5C819.6 377.2 818.9 376.8 818.2 376.4C817.4 376 816.7 375.5 816.1 375C815.5 374.5 814.9 373.8 814.3 373.2M814.3 354.7L814.3 373.2M782.9 385.6L785.3 385.6L785.3 397.9L788.2 398.7L788.2 406.8L785.6 407.6L785.6 414L782.5 414L782.5 407.6L780.5 406.8L780.5 398.7L782.9 397.9ZM807.4 397.5L810.9 399.3L813.8 398.1L828.9 405.8L829.6 408.9L833.2 410.7L832.1 412.8L828.6 411L825.7 412.2L810.5 404.5L809.8 401.5L806.3 399.6ZM764.7 349L764.7 440M770.5 349L770.5 432" class="m"/><circle cx="823.9" cy="364" r="10.6" class="m"/>
<path d="M881.5 537.8C883.6 537.8 885.8 538.3 887.9 537.8C889.6 537.4 891.4 536.9 892.7 535.8C893.8 534.8 894.6 533.6 895.1 532.2C895.7 530.7 895.4 529 895.6 527.4M895.6 527.4L895.6 492.1M766 423.2C766.3 429.1 766.2 435 766.8 440.8C767.6 447.9 768.9 454.9 770.8 461.7C771.8 464.9 772 468.7 774 471.3C775.2 472.7 776.5 474 778.1 474.8C780 475.8 782.3 475.8 784.5 475.8C787.5 475.8 790.3 474.4 793.3 473.7M770.5 423.2C770.9 428.6 771.1 433.9 771.6 439.2C772.6 448.4 774.8 457.4 776.5 466.5M780.5 444L790.9 440.8L796.5 460.9L785.6 464.1ZM814.9 433.1L862.2 420.3M814.9 431.2L819.7 449.7L831.8 503.4L810.9 509M793.3 458.5L798.1 468.1L807.7 500.2L811.7 507.9" class="m"/><circle cx="806.1" cy="446.5" r="10.4" class="m"/>
<use href="#w_blu" class="wo" stroke="#fff"/>
<use href="#w_org" class="wo" stroke="#fff"/>
<use href="#w_black" class="wo" stroke="#fff"/>
<use href="#w_yel" class="wo" stroke="#fff"/>
<use href="#w_wht" class="wo" stroke="#fff"/>
<use href="#w_blk" class="wo" stroke="#fff"/>
<use href="#w_red" class="wo" stroke="#fff"/>
<use href="#w_blu" class="wo" mask="url(#m_blu)"/><use href="#w_blu" class="wi" stroke="url(#h_blu)"/>
<use href="#w_org" class="wo" mask="url(#m_org)"/><use href="#w_org" class="wi" stroke="url(#h_org)"/>
<use href="#w_black" class="wo" mask="url(#m_black)"/><use href="#w_black" class="wi" stroke="url(#h_black)"/>
<use href="#w_yel" class="wo" mask="url(#m_yel)"/><use href="#w_yel" class="wi" stroke="url(#h_yel)"/>
<use href="#w_wht" class="wo" mask="url(#m_wht)"/><use href="#w_wht" class="wi" stroke="url(#h_wht)"/>
<use href="#w_blk" class="wo" mask="url(#m_blk)"/><use href="#w_blk" class="wi" stroke="url(#h_blk)"/>
<use href="#w_red" class="wo" mask="url(#m_red)"/><use href="#w_red" class="wi" stroke="url(#h_red)"/>
<g fill="#000"><circle cx="490.9" cy="358.6" r="4.4"/><circle cx="425.8" cy="276" r="4.4"/><circle cx="467" cy="254.9" r="4.4"/><circle cx="328.9" cy="240.2" r="4.4"/><circle cx="367.5" cy="269" r="4.4"/><circle cx="284.9" cy="334.1" r="4.4"/><circle cx="263.8" cy="292.9" r="4.4"/><circle cx="249.1" cy="431" r="4.4"/><circle cx="277.9" cy="392.4" r="4.4"/><circle cx="343" cy="475" r="4.4"/><circle cx="301.8" cy="496.1" r="4.4"/><circle cx="439.9" cy="510.8" r="4.4"/><circle cx="401.3" cy="482" r="4.4"/><circle cx="483.9" cy="416.9" r="4.4"/><circle cx="505" cy="458.1" r="4.4"/><circle cx="519.7" cy="320" r="4.4"/><circle cx="411" cy="193" r="4.4"/><circle cx="357.8" cy="558" r="4.4"/><circle cx="213.8" cy="305.5" r="4.4"/><circle cx="555" cy="445.5" r="4.4"/></g>
<path d="M347.5 50L356.3 41.2L365.1 50L356.3 58.8Z" class="w"/><path d="M347.5 50L356.3 50M351.9 54.4L351.9 45.6M351.9 54.4L360.7 54.4M356.3 58.8L356.3 50M351.9 45.6L360.7 54.4" class="h"/><path d="M356.2 41.2L359.5 37.9L362.7 41.2L359.5 44.4Z" class="w"/>
<path d="M348 95.8L356.5 86.7L365.6 95.2L357.1 104.3Z" class="w"/><path d="M348 95.8L356.8 95.5M352.6 100L352.3 91.3M352.6 100L361.3 99.7M357.1 104.3L356.8 95.5M352.3 91.3L361.3 99.7" class="h"/><path d="M356.4 86.7L359.6 83.3L362.9 86.4L359.8 89.8Z" class="w"/>
<path d="M399.5 91L408.8 82.7L417.1 92L407.8 100.3Z" class="w"/><path d="M399.5 91L408.3 91.5M403.7 95.6L404.2 86.9M403.7 95.6L412.4 96.1M407.8 100.3L408.3 91.5M404.2 86.9L412.4 96.1" class="h"/><path d="M414 88.6L417.5 85.5L420.5 89L417.1 92Z" class="w"/>
<text x="367.3" y="45.3" font-size="14.4">2</text>
<text x="368.8" y="90.9" font-size="14.4">3</text>
<text x="411.6" y="82" font-size="14.4">1</text>
<path d="M801 356.3L804.5 356.3L804.5 370.7L801 370.7Z" fill="#000"/><path d="M871 356.3L874.2 356.3L874.2 371.5L871 371.5Z" fill="#000"/><path d="M782.5 445.7L785.6 444.8L789.3 460.9L786.6 462Z" fill="#000"/>
<path d="M779.7 268.8L806.9 264L810.6 276.5L783.3 281.6Z" class="mw"/><path d="M781.3 275.4L809 270.4" class="m"/><circle cx="791.4" cy="273.3" r="3.4" class="mw"/><circle cx="791.4" cy="273.6" r="1.9" class="m"/><path d="M788.4 272.5L794.4 271.7M788.4 274.7L794.4 273.9" class="m"/>
<circle cx="820" cy="669" r="41.8" class="t"/>
<rect x="794" y="656.6" width="9" height="24.8" class="w"/>
<rect x="794.7" y="652.6" width="7.6" height="4" class="w"/>
<path d="M796.6 652.6v4M798.5 652.6v4M800.4 652.6v4" class="h"/>
<rect x="837.5" y="656.6" width="9" height="24.8" class="w"/>
<rect x="838.2" y="652.6" width="7.6" height="4" class="w"/>
<path d="M840.1 652.6v4M842 652.6v4M843.9 652.6v4" class="h"/>
<path d="M1008.5 178.5L1154 178.5C1154 172 1158 168.3 1164 168.3C1169.5 168.3 1174.8 173 1174.8 178.5C1174.8 182.5 1173 186.3 1171.2 186.3C1169.4 186.3 1167.6 182.5 1167.6 178.5C1167.6 173 1172.5 168.3 1178 168.3C1183.5 168.3 1188 173 1188 178.5C1188 182.5 1186.2 186.3 1184.4 186.3C1182.6 186.3 1180.8 182.5 1180.8 178.5C1180.8 173 1185.7 168.3 1191.2 168.3C1196.7 168.3 1201.2 173 1201.2 178.5C1201.2 182.5 1199.4 186.3 1197.6 186.3C1195.8 186.3 1194 182.5 1194 178.5C1194 173 1199.3 168.3 1204.8 168.3C1210.8 168.3 1214.4 172 1214.4 178.5L1446.5 178.5M1446.5 178.5L1446.5 573.4M1008.5 178.5L1008.5 443.5L1041.5 410.5M1008.5 178.5L1071.7 350.5L1082.1 350.5A8.4 8.4 0 0 1 1098.9 350.5L1156 350.5C1156 344 1160 340.3 1166 340.3C1171.5 340.3 1176.8 345 1176.8 350.5C1176.8 354.5 1175 358.3 1173.2 358.3C1171.4 358.3 1169.6 354.5 1169.6 350.5C1169.6 345 1174.5 340.3 1180 340.3C1185.5 340.3 1190 345 1190 350.5C1190 354.5 1188.2 358.3 1186.4 358.3C1184.6 358.3 1182.8 354.5 1182.8 350.5C1182.8 345 1187.7 340.3 1193.2 340.3C1198.7 340.3 1203.2 345 1203.2 350.5C1203.2 354.5 1201.4 358.3 1199.6 358.3C1197.8 358.3 1196 354.5 1196 350.5C1196 345 1201.3 340.3 1206.8 340.3C1212.8 340.3 1216.4 344 1216.4 350.5L1398.5 350.5M1090.5 294.5L1173.3 294.5C1173.3 288 1177.3 284.3 1183.3 284.3C1188.8 284.3 1194.1 289 1194.1 294.5C1194.1 298.5 1192.3 302.3 1190.5 302.3C1188.7 302.3 1186.9 298.5 1186.9 294.5C1186.9 289 1191.8 284.3 1197.3 284.3C1202.8 284.3 1207.3 289 1207.3 294.5C1207.3 298.5 1205.5 302.3 1203.7 302.3C1201.9 302.3 1200.1 298.5 1200.1 294.5C1200.1 289 1205 284.3 1210.5 284.3C1216 284.3 1220.5 289 1220.5 294.5C1220.5 298.5 1218.7 302.3 1216.9 302.3C1215.1 302.3 1213.3 298.5 1213.3 294.5C1213.3 289 1218.6 284.3 1224.1 284.3C1230.1 284.3 1233.7 288 1233.7 294.5L1317.5 294.5M1090.5 294.5L1090.5 420.5L1063.5 420.5L1063.5 412M1317.5 294.5L1317.5 343.5A7 7 0 0 0 1317.5 357.5L1317.5 376.5L1274.5 376.5L1274.5 433.3M1398.5 350.5L1398.5 397.4M1386.7 397.4L1409.6 397.4M1386.7 403.5Q1398.5 398.2 1409.6 403.5M1398.5 401L1398.5 497.5L1373.3 497.5M1043.3 434.5L1183.5 434.5L1183.5 580.3M1300.7 463.5L1254.5 463.5L1254.5 593.3M1322.7 463.5L1359.5 463.5L1359.5 530.5L1322.7 530M1303.5 559L1303.5 592.5L1431 592.5M1279.6 447L1286.3 447M1277.3 497.5L1334.7 497.5" class="s"/>
<circle cx="1008.5" cy="178.5" r="4.6" fill="#000"/>
<circle cx="1446.5" cy="178.5" r="4.6" fill="#000"/>
<circle cx="1090.5" cy="294.5" r="4.6" fill="#000"/>
<circle cx="1317.5" cy="294.5" r="4.6" fill="#000"/>
<circle cx="1397.8" cy="350.5" r="4.6" fill="#000"/>
<rect x="1286.3" y="438.7" width="5.7" height="17" class="sw"/>
<rect x="1294.7" y="438.7" width="6" height="17" class="sw"/>
<rect x="1300.7" y="426.3" width="5.3" height="51.7" class="sw"/>
<rect x="1306" y="455.7" width="5.6" height="16.3" class="sw"/>
<rect x="1317" y="455.7" width="5.7" height="16.3" class="sw"/>
<rect x="1300.7" y="516.7" width="5.3" height="42.3" class="sw"/>
<rect x="1306" y="521.7" width="5.6" height="16.6" class="sw"/>
<rect x="1317" y="521.7" width="5.7" height="16.6" class="sw"/>
<path d="M1268.3 447L1268.3 435.3L1270.3 433.3L1277.6 433.3L1279.6 435.3L1279.6 447ZM1268.8 435.2L1279.1 435.2" class="sw"/><circle cx="1274" cy="440.4" r="1.5" class="sw"/>
<path d="M1359.5 492L1369 492Q1373.3 493 1373.3 497.5Q1373.3 502.3 1369 503.3L1359.5 503.3ZM1370.2 492.4L1370.2 502.9" class="sw"/><circle cx="1366" cy="498" r="1.4" class="sw"/>
<path d="M1277.3 497.5L1289.3 495.3L1289.3 499.7Z" fill="#333" stroke="#111" stroke-width=".7"/>
<path d="M1334.7 497.5L1322.7 499.7L1322.7 495.3Z" fill="#333" stroke="#111" stroke-width=".7"/>
<text x="1273" y="510.7" font-size="6.8" letter-spacing=".75">RUN</text>
<text x="1321.7" y="510.4" font-size="6.8" letter-spacing=".75">START</text>
<path d="M1180.7 580.3H1186.7V590H1180.7ZM1182.7 582V594.4H1203V604H1206V591.3H1185.5V582M1189.6 588.4H1199.6V591.3H1189.6ZM1191.7 594.4V604H1196.7V594.4" class="sw"/>
<path d="M1191.7 596.5H1196.7M1191.7 598.5H1196.7M1191.7 600.5H1196.7M1191.7 602.5H1196.7M1194.2 594.4V604" class="sw"/>
<path d="M1254.7 591H1229V607.3H1232.7V593.6H1254.7ZM1237.7 591V587.3H1251.7V591" class="sw"/>
<path d="M1441 587.4V577L1444 573.8H1449.4L1452.4 577V587.4ZM1441.5 576.5H1452M1439.6 587.4H1453.4V591H1439.6ZM1431 591.2H1462.4V608.2H1458.4V594.4H1431Z" class="sw"/><circle cx="1446.4" cy="580.8" r="1.5" class="sw"/>
<path d="M1032.5 404.7L1040.7 398.7L1040.7 387.7Q1045.5 385.8 1050.3 385.2L1050.3 388.7A4.2 4.2 0 0 0 1058.7 388.7L1058.7 385.2Q1063.5 385.8 1068.3 387.7L1068.3 398.7L1076.5 404.7L1076.5 441.1L1068.3 447.1L1068.3 458.1Q1063.5 460 1058.7 460.6L1058.7 457.1A4.2 4.2 0 0 0 1050.3 457.1L1050.3 460.6Q1045.5 460 1040.7 458.1L1040.7 447.1L1032.5 441.1Z" class="s"/><path d="M1059.2 422.7L1056.8 426.9L1051.8 426.9L1049.4 422.7L1051.8 418.5L1056.8 418.5Z" class="sw"/><circle cx="1054.3" cy="422.7" r="2.2" class="sw"/><path d="M1037.7 411.4L1042.5 406.6L1045.7 409.8L1040.9 414.6Z" class="sw"/><path d="M1042.5 406.6L1043.8 405.3L1045.2 406.7L1043.9 408Z" class="sw"/><path d="M1065.1 414.6L1060.3 409.8L1063.5 406.6L1068.3 411.4Z" class="sw"/><path d="M1060.3 409.8L1059 408.5L1060.4 407.1L1061.7 408.4Z" class="sw"/><path d="M1047.3 435.2L1042.5 440L1039.3 436.8L1044.1 432Z" class="sw"/><path d="M1042.5 440L1041.2 441.3L1039.8 439.9L1041.1 438.6Z" class="sw"/><text x="1041.2" y="406" font-size="15.6">3</text><text x="1060.2" y="406" font-size="15.6">2</text><text x="1040.2" y="431.7" font-size="15.6">1</text>
<text x="1147.8" y="158" font-size="15.6">4P MAIN 2</text>
<text x="1169" y="274.8" font-size="15.6">2P MAIN 1</text>
<text x="1160" y="330" font-size="15.6">4P AUX</text>
<text x="1152" y="400" font-size="15.6">START</text>
<text x="1152" y="416.6" font-size="15.6">CAPACITOR</text>
<text x="1005" y="540" font-size="15.6">PROT</text>
<text x="1220" y="662" font-size="15.6">HI SPEED</text>
<text x="1220" y="678.7" font-size="15.6">C-LINE 1</text>
<text x="1313.5" y="662" font-size="15.6">LO SPEED</text>
<text x="1321.7" y="678.7" font-size="15.6">C-LINE 1</text>
<text x="1172" y="620.8" font-size="22.3">C</text>
<text x="1244.3" y="621.6" font-size="22.3">H</text>
<text x="1443.3" y="621.3" font-size="22.3">L</text>
<text transform="translate(1003 409.5) rotate(-90)" font-size="15.6">ORG</text>
<text transform="translate(1107.3 405.5) rotate(-90)" font-size="15.6">BLU</text>
<text transform="translate(1310 337.3) rotate(-90)" font-size="15.6">YEL</text>
<text transform="translate(1419.3 388.5) rotate(-90)" font-size="15.6">BLK</text>
<text transform="translate(1417.5 439) rotate(-90)" font-size="15.6">RED</text>
<text transform="translate(1464 390.5) rotate(-90)" font-size="15.6">WHT</text>
<text transform="translate(1178.3 506) rotate(-90)" font-size="15.6">BLK</text>
<path d="M1253.3 410L1383.6 400.6M1056.7 534.3L1079 534.3L1066.7 461" class="s"/>
<path d="M1383.6 400.6L1371.3 403.5L1371 399.5Z" fill="#333" stroke="#111" stroke-width=".7"/>
<path d="M1066.7 461L1070.5 472.5L1066.9 473.1Z" fill="#777" stroke="#111" stroke-width=".7"/>
<path d="M232 17.5L250 17.5L293.3 68.6" class="ld"/>
<path d="M293.3 68.6L284.2 60.6L286.9 58.3Z" fill="#777" stroke="#000" stroke-width=".9"/>
<path d="M187.7 54.5L208.3 54.5L261 138.6" class="ld"/>
<path d="M261 138.6L253.1 129.4L256.2 127.5Z" fill="#777" stroke="#000" stroke-width=".9"/>
<path d="M90.7 136.5L110 136.5L296.5 299.4" class="ld"/>
<path d="M296.5 299.4L286.3 292.9L288.6 290.2Z" fill="#777" stroke="#000" stroke-width=".9"/>
<path d="M532.6 26.5L510 26.5L456.7 50.7" class="ld"/>
<path d="M456.7 50.7L466.9 44.1L468.4 47.4Z" fill="#777" stroke="#000" stroke-width=".9"/>
<path d="M571.3 83.5L550 83.5L540.7 138.7" class="ld"/>
<path d="M540.7 138.7L540.9 126.6L544.5 127.2Z" fill="#777" stroke="#000" stroke-width=".9"/>
<path d="M497.5 164.5L475 164.5L451.3 235.5" class="ld"/>
<path d="M451.3 235.5L453.4 223.5L456.8 224.7Z" fill="#777" stroke="#000" stroke-width=".9"/>
<path d="M715 425.5L692.5 425.5L680 402.5" class="ld"/>
<path d="M680 402.5L687.3 412.2L684.1 413.9Z" fill="#777" stroke="#000" stroke-width=".9"/>
<path d="M703.8 562.5L682.5 562.5L658.8 537" class="ld"/>
<path d="M658.8 537L668.3 544.6L665.7 547Z" fill="#777" stroke="#000" stroke-width=".9"/>
<path d="M902.7 572.5L881.3 572.5L847.3 597.6" class="ld"/>
<path d="M847.3 597.6L855.9 589L858 591.9Z" fill="#777" stroke="#000" stroke-width=".9"/>
<path d="M726.7 638.5L738.3 638.5L763.3 597.3" class="ld"/>
<path d="M763.3 597.3L758.6 608.5L755.5 606.6Z" fill="#777" stroke="#000" stroke-width=".9"/>
<path d="M667.5 694.5L646.3 694.5L503 530.5" class="ld"/>
<path d="M503 530.5L512.3 538.4L509.5 540.7Z" fill="#777" stroke="#000" stroke-width=".9"/>
<path d="M905.6 688.5L883 688.5L861.6 667" class="ld"/>
<path d="M861.6 667L871.3 674.2L868.8 676.8Z" fill="#777" stroke="#000" stroke-width=".9"/>
<text x="192.3" y="23.4" font-size="15.6">BLU</text>
<text x="147" y="60" font-size="15.6">ORG</text>
<text x="26" y="141.7" font-size="15.6" style="word-spacing:-.9px">AUX 1</text>
<text x="537.7" y="32.7" font-size="15.6">PROTECTOR</text>
<text x="577.7" y="90" font-size="15.6">BLACK</text>
<text x="503.8" y="170" font-size="15.6" style="word-spacing:-.9px">MAIN 2</text>
<text x="719.7" y="428" font-size="15.6">YEL</text>
<text x="710.5" y="567" font-size="15.6">WHT</text>
<text x="910.7" y="578" font-size="15.6">RED</text>
<text x="694" y="644" font-size="15.6">BLK</text>
<text x="674.5" y="699.8" font-size="15.6" style="word-spacing:-.9px">MAIN 1</text>
<text x="917" y="693.6" font-size="15.6">START</text>
<text x="917" y="711" font-size="15.6">CAPACITOR</text>
<text x="289.3" y="739.7" font-size="15.6" style="word-spacing:0">VIEWING LEAD END</text>
<text x="612.5" y="749" font-size="15.6" style="word-spacing:0">ROTATION: CW SWITCH END</text>
</svg>
</body></html>
